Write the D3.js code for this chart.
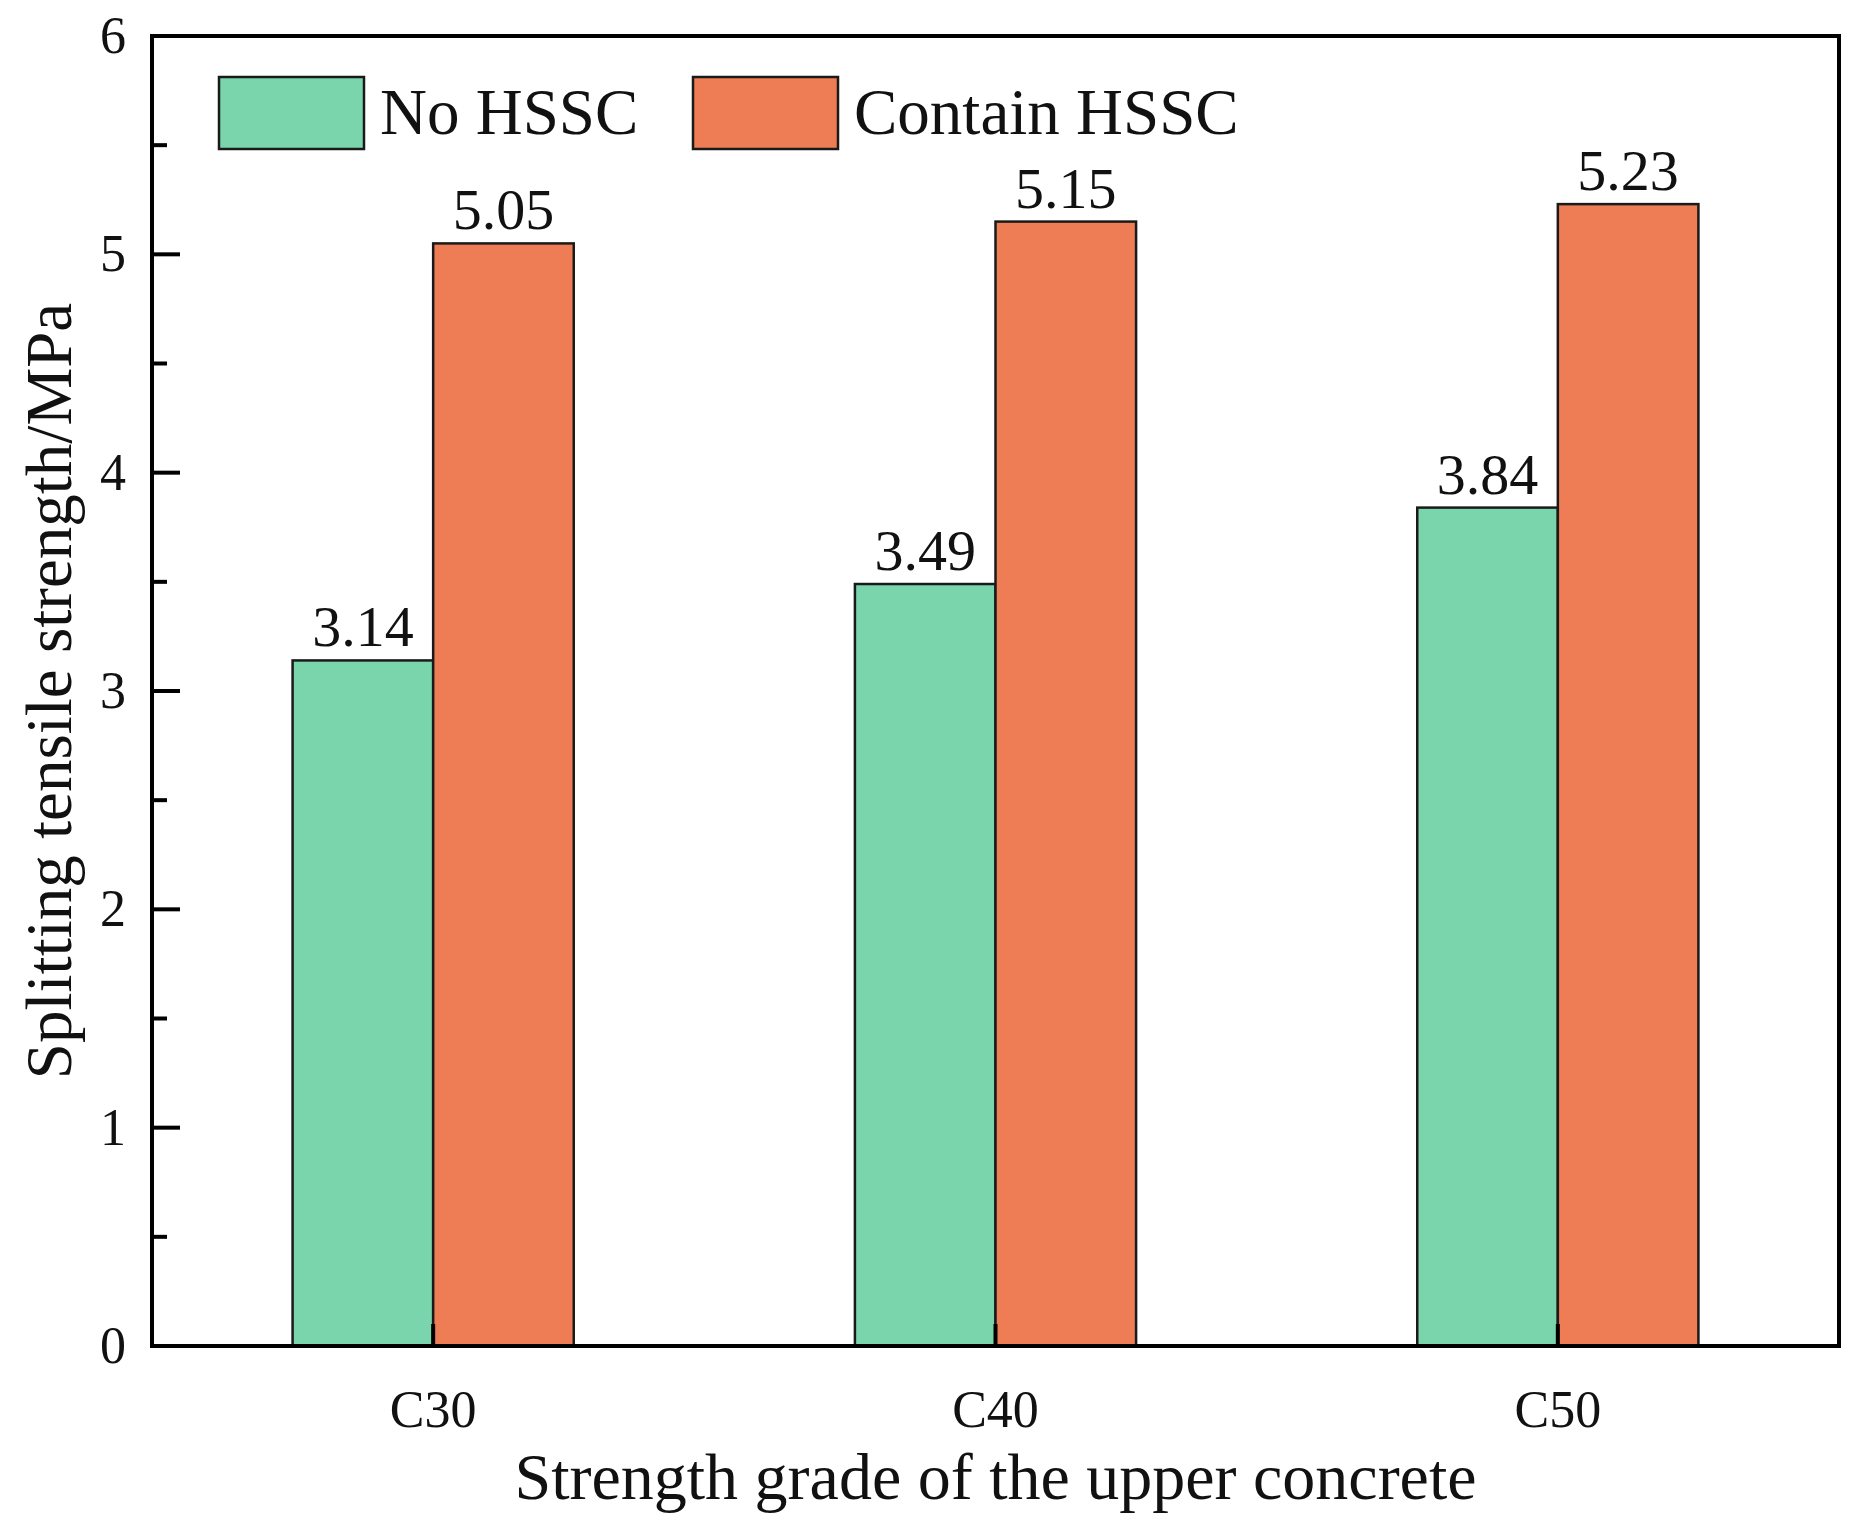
<!DOCTYPE html>
<html>
<head>
<meta charset="utf-8">
<script src="https://cdn.jsdelivr.net/npm/d3@7"></script>
<style>
  html, body { margin: 0; padding: 0; background: #fff; }
  svg { display: block; font-family: 'Liberation Serif', 'Times New Roman', serif; }
</style>
</head>
<body>
<svg id="chart" width="1863" height="1533"></svg>
<script>
const categories = ['C30', 'C40', 'C50']
const seriesNames = ['No HSSC', 'Contain HSSC']
const noHSSC = [3.14, 3.49, 3.84]
const containHSSC = [5.05, 5.15, 5.23]
const yTicks = [0, 1, 2, 3, 4, 5, 6]
const yMinorTicks = [0.5, 1.5, 2.5, 3.5, 4.5, 5.5]
const colors = { 'No HSSC': '#7ad5ad', 'Contain HSSC': '#ee7c54' }

const marginLeft = 152
const marginRight = 24
const marginTop = 36
const marginBottom = 187

const svg = d3.select('#chart')
const width = +svg.attr('width') - marginLeft - marginRight
const height = +svg.attr('height') - marginTop - marginBottom

const values = { 'No HSSC': noHSSC, 'Contain HSSC': containHSSC }
const data = categories.map((c, i) => ({
  cat: c,
  bars: seriesNames.map((s) => ({ key: s, value: values[s][i] })),
}))

const x0 = d3.scaleBand().domain(categories).range([0, width])
const x1 = d3
  .scaleBand()
  .domain(seriesNames)
  .range([x0.bandwidth() / 4, (x0.bandwidth() * 3) / 4])
const y = d3.scaleLinear().domain([0, 6]).range([height, 0])

const g = svg.append('g').attr('transform', `translate(${marginLeft},${marginTop})`)

// bars
const groups = g
  .selectAll('g.group')
  .data(data)
  .join('g')
  .attr('class', 'group')
  .attr('transform', (d) => `translate(${x0(d.cat)},0)`)

groups
  .selectAll('rect')
  .data((d) => d.bars)
  .join('rect')
  .attr('x', (d) => x1(d.key))
  .attr('y', (d) => y(d.value))
  .attr('width', x1.bandwidth())
  .attr('height', (d) => height - y(d.value))
  .attr('fill', (d) => colors[d.key])
  .attr('stroke', '#1a1a1a')
  .attr('stroke-width', 2.5)

// value labels
groups
  .selectAll('text')
  .data((d) => d.bars)
  .join('text')
  .attr('x', (d) => x1(d.key) + x1.bandwidth() / 2)
  .attr('y', (d) => y(d.value) - 14)
  .attr('text-anchor', 'middle')
  .attr('font-size', 58)
  .attr('fill', '#111')
  .text((d) => d.value.toFixed(2))

// y axis labels
const yAxis = g
  .append('g')
  .call(d3.axisLeft(y).tickValues(yTicks).tickSize(0).tickPadding(26).tickFormat(d3.format('d')))
yAxis.select('.domain').remove()
yAxis
  .selectAll('text')
  .attr('font-size', 52)
  .attr('font-family', "'Liberation Serif', serif")
  .attr('fill', '#111')

// frame
g.append('rect')
  .attr('width', width)
  .attr('height', height)
  .attr('fill', 'none')
  .attr('stroke', '#000')
  .attr('stroke-width', 4)

// y major ticks (inward)
g.append('g')
  .attr('class', 'major')
  .selectAll('rect')
  .data(yTicks.slice(1, -1))
  .join('rect')
  .attr('x', 0)
  .attr('y', (d) => y(d) - 2)
  .attr('width', 28)
  .attr('height', 4)
  .attr('fill', '#000')

// y minor ticks (inward)
g.append('g')
  .attr('class', 'minor')
  .selectAll('rect')
  .data(yMinorTicks)
  .join('rect')
  .attr('x', 0)
  .attr('y', (d) => y(d) - 2)
  .attr('width', 15)
  .attr('height', 4)
  .attr('fill', '#000')

// x axis labels
const xAxis = g
  .append('g')
  .attr('transform', `translate(0,${height})`)
  .call(d3.axisBottom(x0).tickSize(0).tickPadding(44))
xAxis.select('.domain').remove()
xAxis
  .selectAll('text')
  .attr('font-size', 52)
  .attr('font-family', "'Liberation Serif', serif")
  .attr('fill', '#111')

// x ticks at category centres, inward
g.append('g')
  .selectAll('rect')
  .data(categories)
  .join('rect')
  .attr('x', (d) => x0(d) + x0.bandwidth() / 2 - 2)
  .attr('y', height - 22)
  .attr('width', 4)
  .attr('height', 22)
  .attr('fill', '#000')

// axis titles
svg
  .append('text')
  .attr('text-anchor', 'middle')
  .attr('x', marginLeft + width / 2)
  .attr('y', marginTop + height + 153)
  .attr('font-size', 66)
  .attr('fill', '#111')
  .text('Strength grade of the upper concrete')

svg
  .append('text')
  .attr('text-anchor', 'middle')
  .attr('transform', `translate(71,${marginTop + height / 2}) rotate(-90)`)
  .attr('font-size', 65)
  .attr('fill', '#111')
  .text('Splitting tensile strength/MPa')

// legend
const legend = g.append('g').attr('transform', 'translate(67,41)')
const legendX = [0, 474]
seriesNames.forEach((s, i) => {
  const item = legend.append('g').attr('transform', `translate(${legendX[i]},0)`)
  item
    .append('rect')
    .attr('width', 145)
    .attr('height', 72)
    .attr('fill', colors[s])
    .attr('stroke', '#1a1a1a')
    .attr('stroke-width', 2.5)
  item
    .append('text')
    .attr('x', 161)
    .attr('y', 57)
    .attr('font-size', 65)
    .attr('fill', '#111')
    .text(s)
})
</script>
</body>
</html>
